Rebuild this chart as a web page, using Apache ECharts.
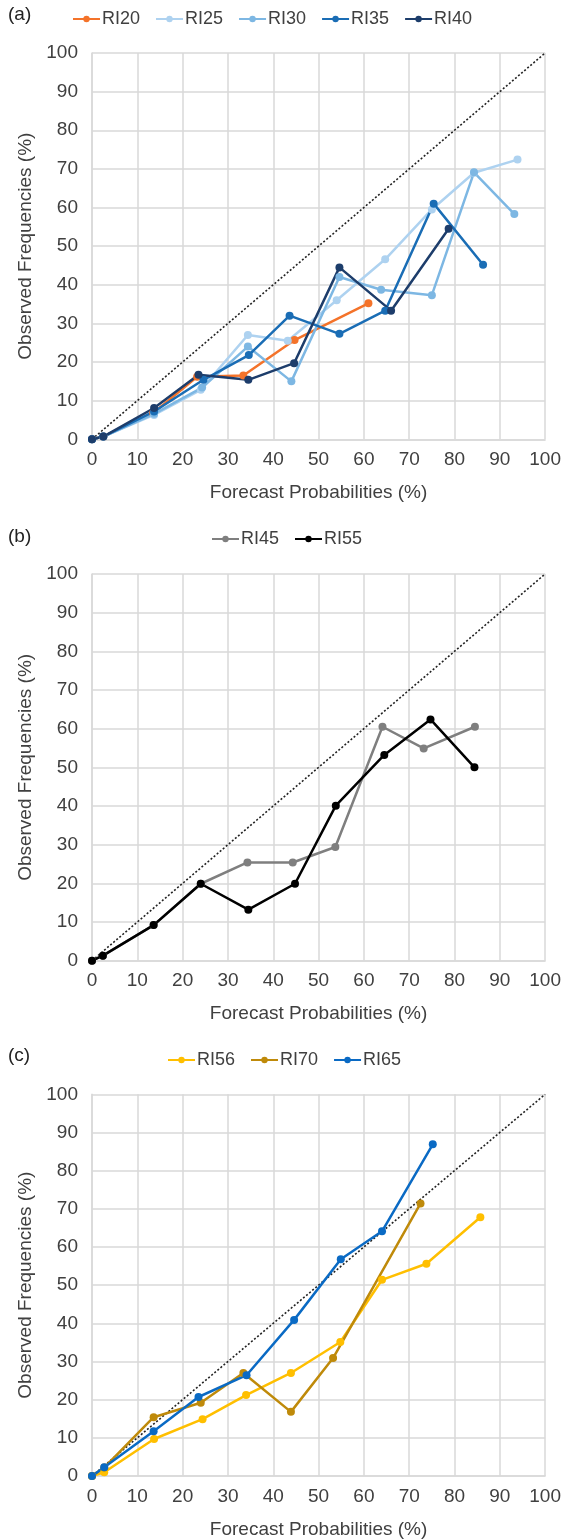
<!DOCTYPE html>
<html>
<head>
<meta charset="utf-8">
<script src="https://cdn.jsdelivr.net/npm/echarts@6/dist/echarts.min.js"></script>
<style>html,body{margin:0;padding:0;background:#fff;}#c{width:564px;height:1540px;}</style>
</head>
<body>
<div id="c"></div>
<script>
// ---- data (x = forecast probability %, y = observed frequency %) ----
const axisTicks = [0,10,20,30,40,50,60,70,80,90,100];
const diagonal = [[0,0],[100,100]];

// panel (a)
const RI20 = [[0,0],[2.5,0.7],[13.5,6.8],[23.2,16.2],[33.4,16.5],[44.7,25.7],[61.0,35.2]];
const RI25 = [[0,0],[2.5,0.7],[13.7,6.3],[24.0,12.8],[34.4,27.0],[43.2,25.5],[54.0,36.0],[64.7,46.6],[75.0,59.5],[84.3,69.0],[93.9,72.4]];
const RI30 = [[0,0],[2.5,0.7],[13.7,6.6],[24.3,13.4],[34.4,24.0],[44.0,15.0],[54.6,42.0],[63.8,38.7],[75.0,37.3],[84.3,69.1],[93.2,58.3]];
const RI35 = [[0,0],[2.5,0.7],[13.7,7.2],[24.6,15.4],[34.6,21.8],[43.6,32.0],[54.6,27.3],[64.7,33.3],[75.4,61.0],[86.3,45.2]];
const RI40 = [[0,0],[2.5,0.7],[13.7,8.1],[23.5,16.7],[34.5,15.4],[44.6,19.7],[54.6,44.5],[66.0,33.3],[78.7,54.5]];

// panel (b)
const RI45 = [[0,0],[2.4,1.3],[13.6,9.2],[24.0,19.9],[34.3,25.4],[44.3,25.4],[53.7,29.4],[64.1,60.5],[73.2,54.9],[84.5,60.5]];
const RI55 = [[0,0],[2.4,1.3],[13.6,9.2],[24.0,19.9],[34.5,13.2],[44.8,19.9],[53.8,40.1],[64.5,53.2],[74.7,62.4],[84.4,50.0]];

// panel (c)
const RI56 = [[0,0],[2.7,1.0],[13.7,9.7],[24.4,14.9],[34.0,21.2],[43.9,27.0],[54.8,35.1],[64.0,51.4],[73.8,55.6],[85.7,67.8]];
const RI70 = [[0,0],[2.7,2.2],[13.6,15.4],[24.0,19.2],[33.4,27.0],[43.9,16.8],[53.2,30.9],[72.5,71.4]];
const RI65 = [[0,0],[2.7,2.3],[13.6,11.7],[23.5,20.7],[34.1,26.4],[44.6,40.9],[54.9,56.8],[64.0,64.1],[75.2,86.9]];

const panelLabels = ['(a)','(b)','(c)'];
const xName = 'Forecast Probabilities (%)';
const yName = 'Observed Frequencies (%)';

// ---- chart ----
const FONT = '"Liberation Sans", Arial, sans-serif';
const TXT = '#404040';
const GRIDC = '#d9d9d9';

const grids = [
  {left: 92, width: 453.5, top: 53, height: 386.3},
  {left: 92, width: 453.5, top: 574, height: 386.7},
  {left: 92, width: 453.5, top: 1094.3, height: 385.7}
];

function xAx(i){
  return {
    type:'value', gridIndex:i, min:axisTicks[0], max:axisTicks[axisTicks.length-1], interval:10,
    name:xName, nameLocation:'middle', nameGap:44,
    nameTextStyle:{fontFamily:FONT, fontSize:19, color:TXT},
    axisLine:{show:true, lineStyle:{color:GRIDC, width:1.5}},
    axisTick:{show:false},
    axisLabel:{fontFamily:FONT, fontSize:19, color:TXT, margin:11},
    splitLine:{show:true, lineStyle:{color:GRIDC, width:1.5}}
  };
}
function yAx(i){
  return {
    type:'value', gridIndex:i, min:0, max:100, interval:10,
    name:yName, nameLocation:'middle', nameGap:53, nameRotate:90,
    nameTextStyle:{fontFamily:FONT, fontSize:19, color:TXT},
    axisLine:{show:true, lineStyle:{color:GRIDC, width:1.5}},
    axisTick:{show:false},
    axisLabel:{fontFamily:FONT, fontSize:19, color:TXT, margin:14},
    splitLine:{show:true, lineStyle:{color:GRIDC, width:1.5}}
  };
}

function ser(name, data, color, i){
  return {
    name, type:'line', data, xAxisIndex:i, yAxisIndex:i,
    symbol:'circle', symbolSize:8, showSymbol:true,
    lineStyle:{color, width:2.5}, itemStyle:{color},
    animation:false, z:3
  };
}
function diag(i){
  return {
    name:'diag'+i, type:'line', data:diagonal, xAxisIndex:i, yAxisIndex:i,
    symbol:'none', lineStyle:{color:'#222', width:1.6, type:[2,2]},
    animation:false, silent:true, z:2
  };
}

const C = {
  RI20:'#f4732a', RI25:'#aed2f0', RI30:'#7db7e3', RI35:'#1a6db5', RI40:'#1d3d6b',
  RI45:'#7f7f7f', RI55:'#000000',
  RI56:'#ffbf00', RI70:'#bf8a0a', RI65:'#0a6ac4'
};

function legend(names, left, top){
  return {
    data:names, left, top, padding:0, itemWidth:27, itemHeight:8, itemGap:15,
    textStyle:{fontFamily:FONT, fontSize:18, color:TXT, padding:[0,0,0,-3]},
    selectedMode:false
  };
}

const option = {
  backgroundColor:'#fff',
  animation:false,
  grid:grids,
  xAxis:[xAx(0), xAx(1), xAx(2)],
  yAxis:[yAx(0), yAx(1), yAx(2)],
  legend:[
    legend(['RI20','RI25','RI30','RI35','RI40'], 72, 10),
    legend(['RI45','RI55'], 211, 530),
    legend(['RI56','RI70','RI65'], 167, 1051)
  ],
  graphic:[
    {type:'text', left:8, top:5, style:{text:panelLabels[0], font:'19px '+FONT, fill:'#222'}},
    {type:'text', left:8, top:527, style:{text:panelLabels[1], font:'19px '+FONT, fill:'#222'}},
    {type:'text', left:8, top:1046, style:{text:panelLabels[2], font:'19px '+FONT, fill:'#222'}}
  ],
  series:[
    diag(0), diag(1), diag(2),
    ser('RI20', RI20, C.RI20, 0),
    ser('RI25', RI25, C.RI25, 0),
    ser('RI30', RI30, C.RI30, 0),
    ser('RI35', RI35, C.RI35, 0),
    ser('RI40', RI40, C.RI40, 0),
    ser('RI45', RI45, C.RI45, 1),
    ser('RI55', RI55, C.RI55, 1),
    ser('RI56', RI56, C.RI56, 2),
    ser('RI70', RI70, C.RI70, 2),
    ser('RI65', RI65, C.RI65, 2)
  ]
};

const chart = echarts.init(document.getElementById('c'), null, {renderer:'canvas'});
chart.setOption(option);
</script>
</body>
</html>
